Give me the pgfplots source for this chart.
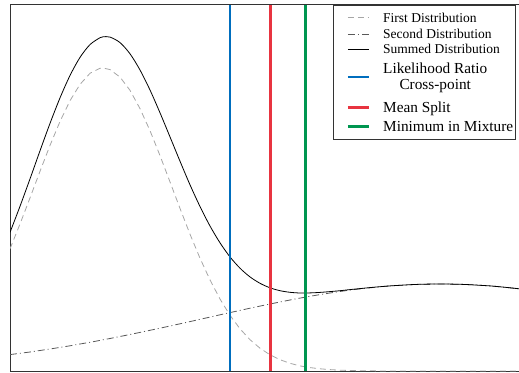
\documentclass[border=0pt]{standalone}
\usepackage{pgfplots}
\pgfplotsset{compat=1.18}
\usepackage{fontspec}
\setmainfont{Liberation Serif}
\definecolor{lrblue}{RGB}{0,110,190}
\definecolor{msred}{RGB}{232,52,64}
\definecolor{mmgreen}{RGB}{0,150,80}
\newcommand{\sm}{\fontsize{13.5}{15}\selectfont}
\pgfplotstableread{
x f1 f2 s
10 122.2 16.4 138.6
20 147.0 17.7 164.7
30 173.1 19.0 192.1
40 199.7 20.5 220.2
50 225.6 22.0 247.6
60 249.5 23.6 273.1
70 270.3 25.2 295.5
80 286.6 27.0 313.6
90 297.7 28.7 326.4
100 302.7 30.6 333.3
103 303.0 31.2 334.2
110 301.4 32.5 333.9
120 293.9 34.5 328.4
130 280.7 36.5 317.2
140 262.4 38.6 301.0
150 240.3 40.7 281.0
160 215.4 42.8 258.2
170 189.1 45.0 234.1
180 162.6 47.2 209.8
190 136.8 49.4 186.2
200 112.8 51.7 164.5
210 91.1 53.9 145.0
220 72.0 56.2 128.2
230 55.7 58.4 114.1
240 42.2 60.6 102.8
250 31.3 62.8 94.1
260 22.8 64.9 87.7
270 16.2 67.0 83.2
280 11.3 69.0 80.3
290 7.7 71.0 78.7
300 5.1 72.9 78.0
310 3.4 74.7 78.1
320 2.2 76.4 78.6
330 1.4 78.0 79.4
340 0.8 79.5 80.3
350 0.5 80.9 81.4
360 0.3 82.1 82.4
370 0.2 83.2 83.4
380 0.1 84.2 84.3
390 0.0 85.1 85.1
400 0.0 85.7 85.7
410 0.0 86.3 86.3
420 0.0 86.7 86.7
430 0.0 86.9 86.9
440 0.0 87.0 87.0
450 0.0 86.9 86.9
460 0.0 86.7 86.7
470 0.0 86.3 86.3
480 0.0 85.7 85.7
490 0.0 85.1 85.1
500 0.0 84.2 84.2
510 0.0 83.2 83.2
520 0.0 82.1 82.1
}\datatable
\begin{document}
\begin{tikzpicture}
\begin{axis}[
  scale only axis,
  width=510pt, height=366pt,
  xmin=10, xmax=520, ymin=0, ymax=366,
  xtick=\empty, ytick=\empty,
  axis line style={draw=black!80, line width=1pt},
  clip=true,
  legend cell align=left,
  legend style={
    at={(0.9912,1)}, anchor=north east,
    draw=black!80, line width=0.6pt,
    font=\fontsize{15.3}{16}\selectfont,
    nodes={inner xsep=1pt, inner ysep=0pt},
    row sep=0pt, column sep=12pt,
    inner xsep=1pt, inner ysep=4pt,
  },
  legend image code/.code={\path (0pt,0pt); \draw[#1] (12pt,0pt) -- (33pt,0pt);},
]
\addplot[gray!70, line width=0.8pt, dash pattern=on 6pt off 4pt] table[x=x, y=f1] {\datatable};
\addlegendentry[text height=13.1pt, text depth=4.1pt]{\sm First Distribution}
\addplot[black!65, line width=0.8pt, dash pattern=on 7pt off 3pt on 1pt off 3pt] table[x=x, y=f2] {\datatable};
\addlegendentry[text height=12pt, text depth=3pt]{\sm Second Distribution}
\addplot[black, line width=0.8pt, smooth] table[x=x, y=s] {\datatable};
\addlegendentry[text height=12pt, text depth=3pt]{\sm Summed Distribution}
\addplot[lrblue, line width=2.6pt] coordinates {(230,0) (230,366)};
\addlegendentry[text height=24.4pt, text depth=16.6pt]{\begin{tabular}{@{}c@{}}\rule{0pt}{16.5pt}Likelihood Ratio\\\rule[-8.5pt]{0pt}{8.5pt}Cross-point\end{tabular}}
\addplot[msred, line width=2.6pt] coordinates {(270.5,0) (270.5,366)};
\addlegendentry[text height=15.15pt, text depth=4.85pt]{Mean Split}
\addplot[mmgreen, line width=2.6pt] coordinates {(305.5,0) (305.5,366)};
\addlegendentry[text height=13.9pt, text depth=3.6pt]{Minimum in Mixture}
\end{axis}
\pgfresetboundingbox
\useasboundingbox ([xshift=-10pt,yshift=-1pt]current axis.south west) rectangle ([xshift=-1pt,yshift=5pt]current axis.north east);
\end{tikzpicture}
\end{document}
